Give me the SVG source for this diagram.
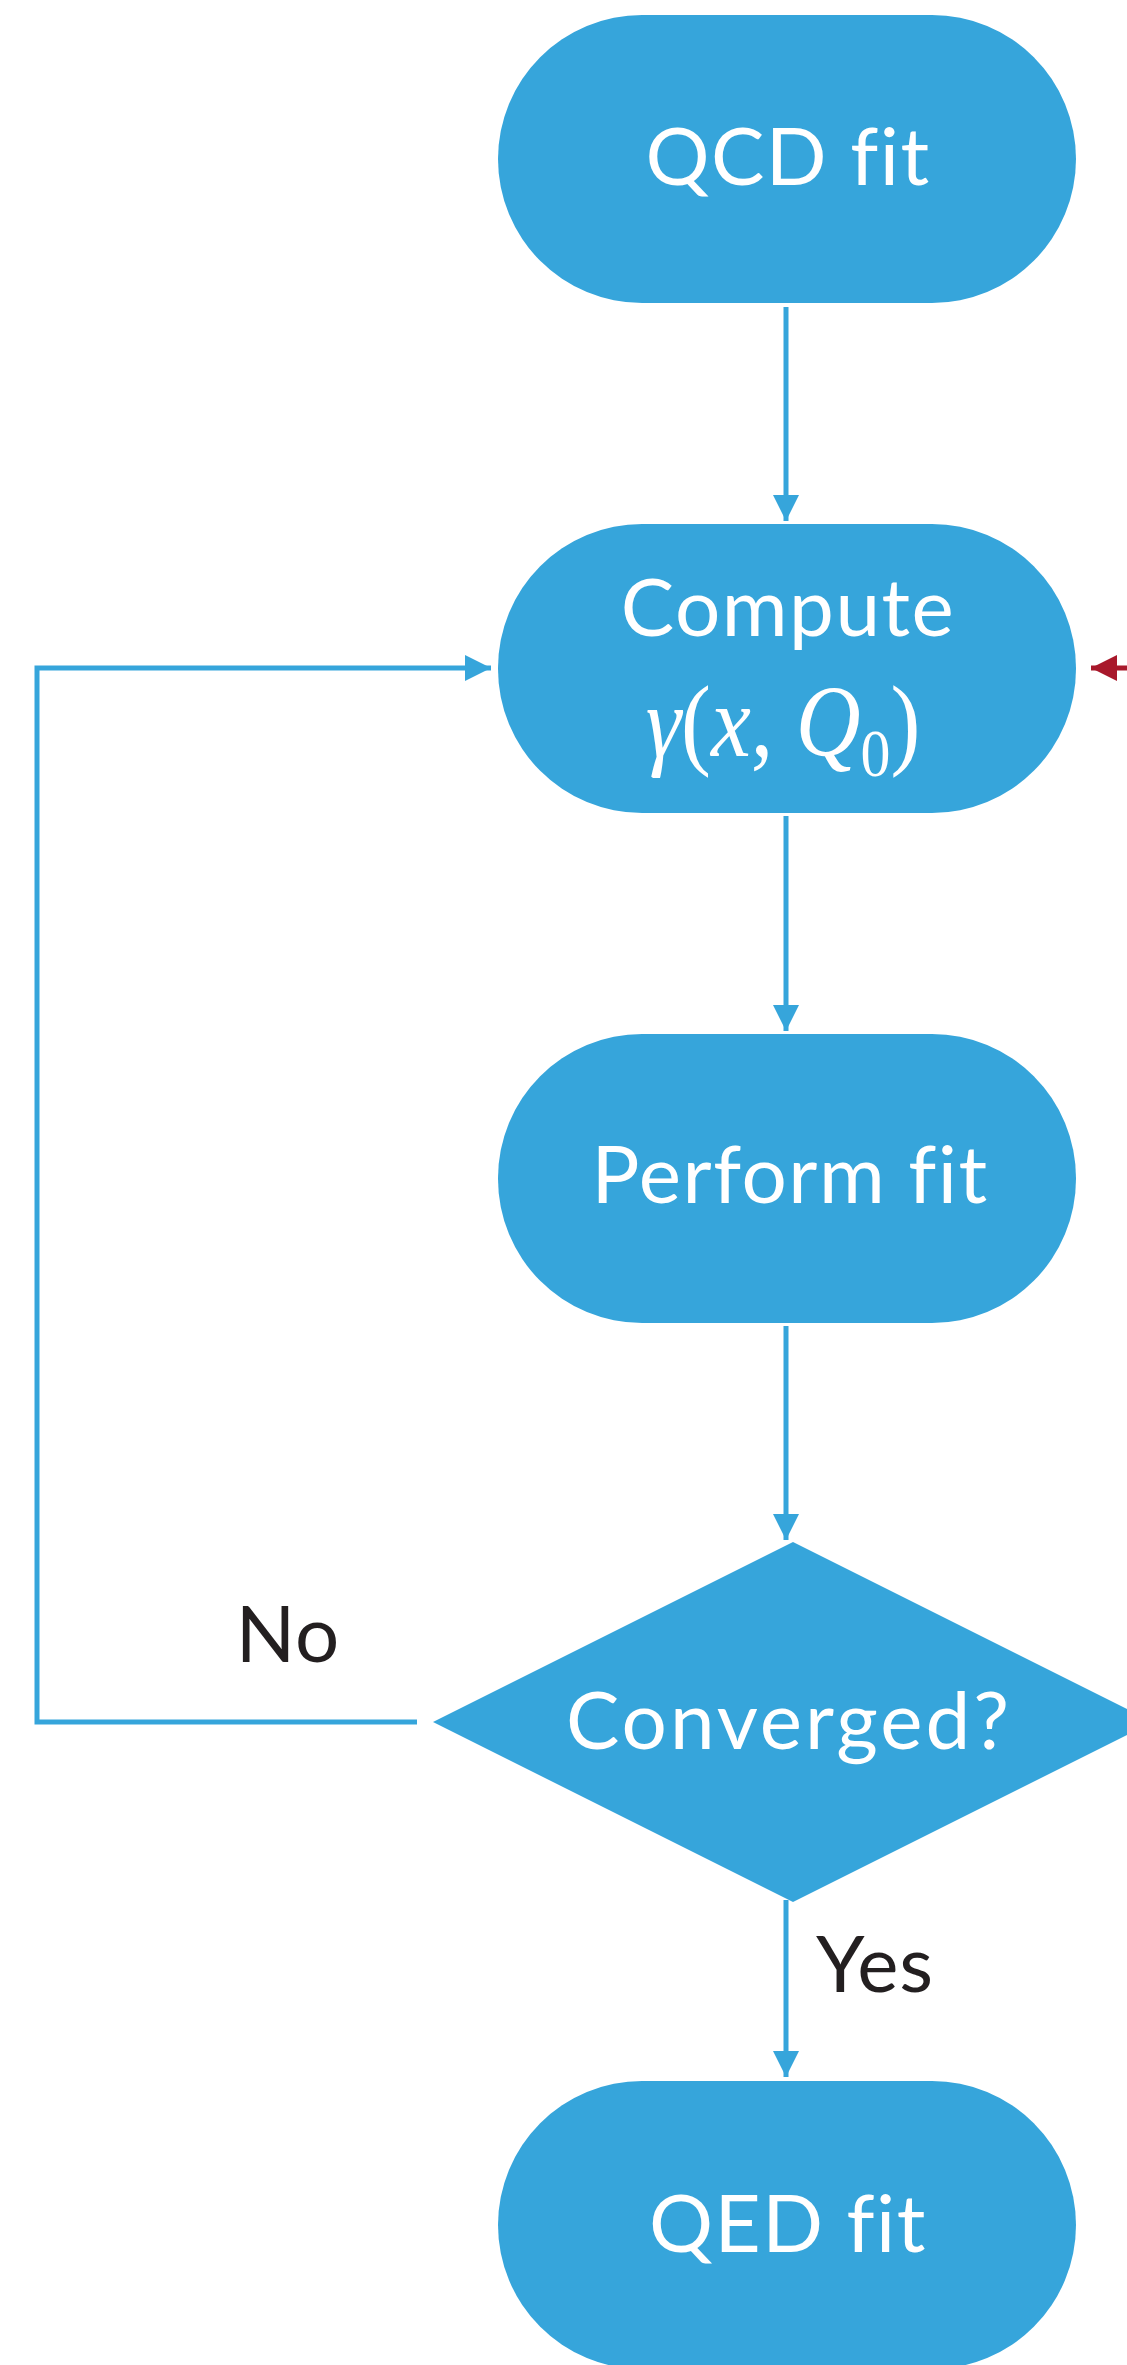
<svg xmlns="http://www.w3.org/2000/svg" width="1127" height="2365" viewBox="0 0 1127 2365">
  <style>
    .node { fill: #36A5DB; }
    .lbl { font-family: Lato, "Open Sans", sans-serif; font-size: 80px; fill: #FFFFFF; text-anchor: middle; font-variant-ligatures: none; letter-spacing: 1.5px; }
    .math { font-family: "Liberation Serif", "DejaVu Serif", serif; font-size: 102px; fill: #FFFFFF; }
    .edge-lbl { font-family: Lato, "Open Sans", sans-serif; font-size: 78px; fill: #231F20; letter-spacing: 1px; }
    .wire { fill: none; stroke: #36A5DB; stroke-width: 5; }
    .wire-red { fill: none; stroke: #A8182B; stroke-width: 5; }
  </style>
  <defs>
    <marker id="arrow" viewBox="0 0 26 26" refX="26" refY="13" markerWidth="26" markerHeight="26" markerUnits="userSpaceOnUse" orient="auto">
      <path d="M0,0 L26,13 L0,26 Z" fill="#36A5DB"/>
    </marker>
    <marker id="arrow-red" viewBox="0 0 26 26" refX="26" refY="13" markerWidth="26" markerHeight="26" markerUnits="userSpaceOnUse" orient="auto">
      <path d="M0,0 L26,13 L0,26 Z" fill="#A8182B"/>
    </marker>
  </defs>
  <rect width="1127" height="2365" fill="#FFFFFF"/>

  <g id="qcd-fit">
    <rect class="node" x="498" y="15" width="578" height="288" rx="144" ry="144"/>
    <text class="lbl" x="788" y="185">QCD fit</text>
  </g>

  <g id="compute">
    <rect class="node" x="498" y="524" width="578" height="289" rx="144" ry="144"/>
    <text class="lbl" x="788" y="636">Compute</text>
    <!-- formula drawn slightly condensed so its height fits the serif math look -->
    <text class="math" transform="translate(783,756) scale(0.88,1)" x="0" y="0" text-anchor="middle"><tspan font-style="italic">γ</tspan>(<tspan font-style="italic">x</tspan>, <tspan font-style="italic">Q</tspan><tspan font-size="68" dy="20">0</tspan><tspan dy="-20">)</tspan></text>
  </g>

  <g id="perform-fit">
    <rect class="node" x="498" y="1034" width="578" height="289" rx="144" ry="144"/>
    <text class="lbl" x="790" y="1203">Perform fit</text>
  </g>

  <g id="converged">
    <polygon class="node" points="793,1542 1153,1722 793,1902 433,1722"/>
    <text class="lbl" x="789" y="1749" style="letter-spacing:3px">Converged?</text>
  </g>

  <g id="qed-fit">
    <rect class="node" x="498" y="2081" width="578" height="288" rx="144" ry="144"/>
    <text class="lbl" x="788" y="2252">QED fit</text>
  </g>

  <g id="connectors">
    <line class="wire" x1="786" y1="307" x2="786" y2="521" marker-end="url(#arrow)"/>
    <line class="wire" x1="786" y1="816" x2="786" y2="1031" marker-end="url(#arrow)"/>
    <line class="wire" x1="786" y1="1326" x2="786" y2="1540" marker-end="url(#arrow)"/>
    <line class="wire" x1="786" y1="1900" x2="786" y2="2077" marker-end="url(#arrow)"/>
    <polyline class="wire" points="417,1722 37,1722 37,668 491,668" marker-end="url(#arrow)"/>
    <line class="wire-red" x1="1130" y1="668" x2="1091" y2="668" marker-end="url(#arrow-red)"/>
    <text class="edge-lbl" x="288" y="1662" text-anchor="middle">No</text>
    <text class="edge-lbl" x="816" y="1992">Yes</text>
  </g>
</svg>
